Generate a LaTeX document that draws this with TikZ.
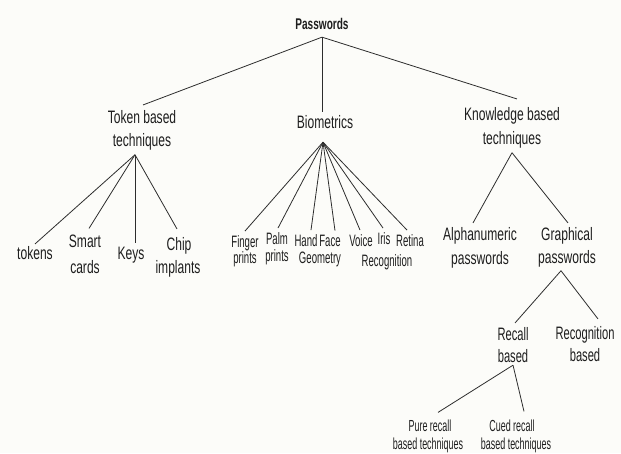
\documentclass[tikz,border=0pt]{standalone}
\usepackage{fontspec}
\setmainfont{Liberation Sans}
\newfontfamily\fmain[FakeStretch=0.67]{Liberation Sans}
\newfontfamily\fbio[FakeStretch=0.58]{Liberation Sans}
\newfontfamily\fsml[FakeStretch=0.56]{Liberation Sans}
\newfontfamily\frec[FakeStretch=0.62]{Liberation Sans}
\newfontfamily\ftitle[FakeStretch=0.65]{Liberation Sans}
\definecolor{bg}{RGB}{252,252,249}
\definecolor{txt}{RGB}{30,30,30}
\definecolor{ln}{RGB}{45,45,45}
\tikzset{
  lbl/.style={inner sep=2pt, outer sep=0pt, anchor=base, text=txt, font=\fmain\fontsize{18}{20}\selectfont},
  blbl/.style={lbl, font=\fbio\fontsize{16.5}{18}\selectfont},
  slbl/.style={lbl, font=\fsml\fontsize{16}{18}\selectfont},
  rlbl/.style={lbl, font=\frec\fontsize{18}{20}\selectfont},
  ttl/.style={lbl, font=\ftitle\bfseries\fontsize{15.5}{18}\selectfont},
  link/.style={draw=ln, line width=0.8pt}
}
\begin{document}
\begin{tikzpicture}[x=1pt,y=-1pt]
\fill[bg] (0,0) rectangle (621,453);
\useasboundingbox (0,0) rectangle (621,453);
% level 0
\node[ttl] (pw) at (322,29) {Passwords};
% level 1
\node[lbl] (tokA) at (142,123) {Token based};
\node[lbl] (tokB) at (142,146) {techniques};
\node[lbl] (bio) at (325,128) {Biometrics};
\node[lbl] (knA) at (512,120) {Knowledge based};
\node[lbl] (knB) at (512,144) {techniques};
% token leaves
\node[lbl] (tokens) at (35,259) {tokens};
\node[lbl] (smartA) at (85,247) {Smart};
\node[lbl] (smartB) at (85,273) {cards};
\node[lbl] (keys) at (131,259) {Keys};
\node[lbl] (chipA) at (179,250) {Chip};
\node[lbl] (chipB) at (178,273) {implants};
% biometrics leaves
\node[blbl] (fingA) at (245,247) {Finger};
\node[blbl] (fingB) at (245,263) {prints};
\node[blbl] (palmA) at (277,244) {Palm};
\node[blbl] (palmB) at (277,261) {prints};
\node[blbl] (hand) at (306,246) {Hand};
\node[blbl] (face) at (330,246) {Face};
\node[blbl] (geom) at (320,263) {Geometry};
\node[blbl] (voice) at (361,246) {Voice};
\node[blbl] (iris) at (384,244) {Iris};
\node[blbl] (retina) at (410,246) {Retina};
\node[blbl] (recog) at (387,266) {Recognition};
% knowledge leaves
\node[lbl] (alphaA) at (480,240) {Alphanumeric};
\node[lbl] (alphaB) at (480,264) {passwords};
\node[lbl] (graphA) at (567,240) {Graphical};
\node[lbl] (graphB) at (567,263) {passwords};
% graphical leaves
\node[rlbl] (recallA) at (513,340) {Recall};
\node[rlbl] (recallB) at (513,362) {based};
\node[rlbl] (recnA) at (585,339) {Recognition};
\node[rlbl] (recnB) at (585,361) {based};
% recall leaves
\node[slbl] (pureA) at (430,431) {Pure recall};
\node[slbl] (pureB) at (428,449) {based techniques};
\node[slbl] (cuedA) at (512,431) {Cued recall};
\node[slbl] (cuedB) at (516,449) {based techniques};
% connectors
\draw[link] ([yshift=-6pt]pw.south) -- ([xshift=1pt,yshift=3pt]tokA.north);
\draw[link] ([yshift=-6pt]pw.south) -- ([xshift=-3pt,yshift=1pt]bio.north);
\draw[link] ([yshift=-6pt]pw.south) -- ([xshift=5pt,yshift=6pt]knA.north);
\draw[link] ([xshift=-7pt,yshift=-3pt]tokB.south) -- (tokens.north);
\draw[link] ([xshift=-7pt,yshift=-3pt]tokB.south) -- ([xshift=4pt,yshift=4pt]smartA.north);
\draw[link] ([xshift=-7pt,yshift=-3pt]tokB.south) -- ([xshift=4pt,yshift=2pt]keys.north);
\draw[link] ([xshift=-7pt,yshift=-3pt]tokB.south) -- ([xshift=-2pt,yshift=6pt]chipA.north);
\foreach \n/\dx in {fingA/0, palmA/1, hand/5, face/5, voice/-1, iris/-1, retina/-3}
  \draw[link] ([xshift=-2pt,yshift=-12pt]bio.south) -- ([xshift=\dx pt,yshift=2pt]\n.north);
\draw[link] ([yshift=-3pt]knB.south) -- ([xshift=-7pt,yshift=2pt]alphaA.north);
\draw[link] ([yshift=-3pt]knB.south) -- ([xshift=1pt,yshift=2pt]graphA.north);
\draw[link] ([xshift=-6pt,yshift=-2pt]graphB.south) -- ([xshift=2pt,yshift=2pt]recallA.north);
\draw[link] ([xshift=-6pt,yshift=-2pt]graphB.south) -- ([xshift=13pt,yshift=5pt]recnA.north);
\draw[link] ([yshift=-1pt]recallB.south) -- ([xshift=8pt,yshift=5pt]pureA.north);
\draw[link] ([yshift=-1pt]recallB.south) -- ([xshift=12pt,yshift=6pt]cuedA.north);
\end{tikzpicture}
\end{document}
